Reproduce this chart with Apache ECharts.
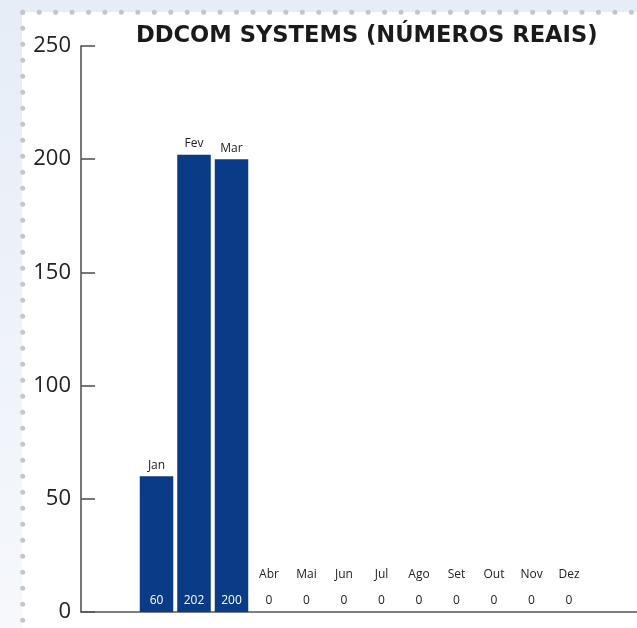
<!DOCTYPE html>
<html><head><meta charset="utf-8">
<script src="https://cdn.jsdelivr.net/npm/echarts@6/dist/echarts.min.js"></script>
<style>html,body{margin:0;padding:0;background:#fff}#c{width:637px;height:628px}</style>
</head><body><div id="c"></div>
<script>
const months = ['Jan','Fev','Mar','Abr','Mai','Jun','Jul','Ago','Set','Out','Nov','Dez'];
const values = [60, 202, 200, 0, 0, 0, 0, 0, 0, 0, 0, 0];
const yTicks = [0, 50, 100, 150, 200, 250];
const chartTitle = 'DDCOM SYSTEMS (NÚMEROS REAIS)';

const BAR = '#0a3b86';
const FONT = '"Open Sans", "Noto Sans", sans-serif';
const chart = echarts.init(document.getElementById('c'), null, {renderer: 'canvas'});

const monthItems = values.map(v => ({
  value: v,
  label: {show: true, position: 'top', distance: v > 0 ? 5 : 31}
}));
const valueItems = values.map(v => ({
  value: v,
  label: {color: v > 0 ? '#ffffff' : '#222222'}
}));

chart.setOption({
  animation: false,
  graphic: [
    {type: 'rect', z: -100, shape: {x: 0, y: 0, width: 637, height: 628},
     style: {fill: new echarts.graphic.LinearGradient(0, 0, 0, 1, [
       {offset: 0, color: '#e6edf7'}, {offset: 1, color: '#f6f8fc'}])}},
    {type: 'rect', z: -99, shape: {x: 22, y: 12, width: 615, height: 616}, style: {fill: '#ffffff'}},
    {type: 'line', z: -98, shape: {x1: 22.7, y1: 12.3, x2: 637, y2: 12.3},
     style: {stroke: '#c4c6ca', lineWidth: 5, lineCap: 'round', lineDash: [0, 16.45]}},
    {type: 'line', z: -98, shape: {x1: 22.7, y1: 12.3, x2: 22.7, y2: 628},
     style: {stroke: '#c4c6ca', lineWidth: 5, lineCap: 'round', lineDash: [0, 16]}}
  ],
  title: {
    text: chartTitle, left: 131, top: 20,
    textStyle: {fontFamily: '"DejaVu Sans", sans-serif', fontWeight: 'bold', fontSize: 22.6, color: '#1a1a1a'}
  },
  grid: [
    {left: 81, right: 0, top: 46, bottom: 16},
    {left: 137.75, width: 450, top: 46, bottom: 16}
  ],
  xAxis: [
    {gridIndex: 0, type: 'value', min: 0, max: 1,
     axisLine: {show: true, onZero: false, lineStyle: {color: '#555', width: 1.6}},
     axisTick: {show: false}, axisLabel: {show: false}, splitLine: {show: false}},
    {gridIndex: 1, type: 'category', data: months,
     axisLine: {show: false}, axisTick: {show: false}, axisLabel: {show: false}}
  ],
  yAxis: [
    {gridIndex: 0, type: 'value', min: 0, max: 250, interval: 50,
     axisLine: {show: true, lineStyle: {color: '#555', width: 1.6}},
     axisTick: {show: true, inside: true, length: 14, lineStyle: {color: '#555', width: 1.6}},
     axisLabel: {margin: 10, fontFamily: FONT, fontSize: 22, color: '#222',
       formatter: v => yTicks.includes(v) ? String(v) : ''},
     splitLine: {show: false}},
    {gridIndex: 1, type: 'value', min: 0, max: 250, show: false}
  ],
  series: [
    {type: 'bar', xAxisIndex: 1, yAxisIndex: 1, barWidth: 33.5, barGap: '-100%',
     itemStyle: {color: BAR},
     label: {show: true, position: 'top', fontFamily: FONT, fontSize: 12, color: '#222',
       formatter: p => months[p.dataIndex]},
     data: monthItems},
    {type: 'bar', xAxisIndex: 1, yAxisIndex: 1, barWidth: 33.5, barGap: '-100%',
     itemStyle: {color: 'rgba(0,0,0,0)'},
     label: {show: true, position: 'insideBottom', distance: 5, fontFamily: FONT, fontSize: 12},
     data: valueItems}
  ]
});
</script></body></html>
